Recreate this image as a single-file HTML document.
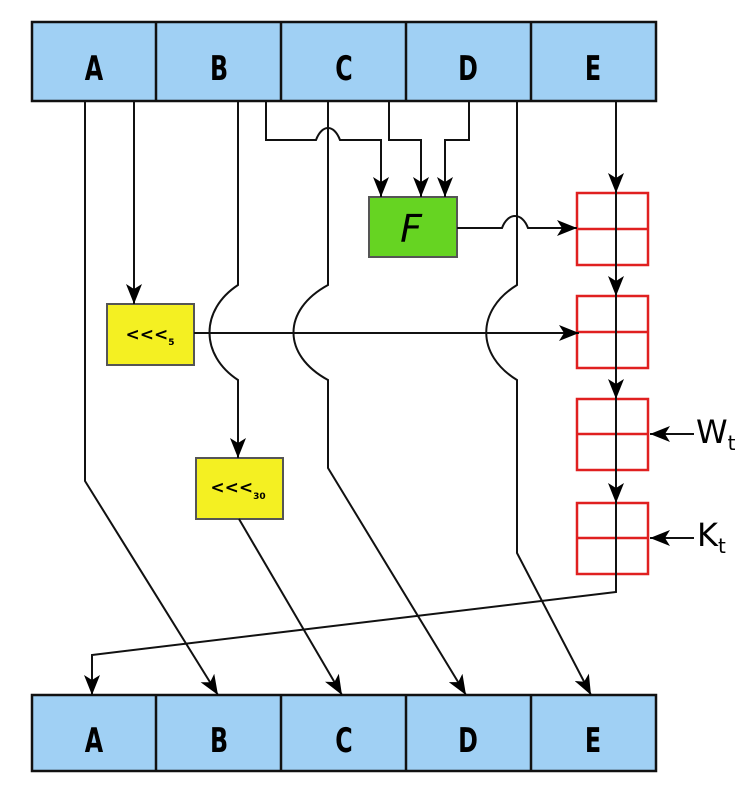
<!DOCTYPE html>
<html><head><style>
html,body{margin:0;padding:0;background:#fff;}
svg{display:block;}
.lbl{font-family:"DejaVu Sans","Liberation Sans",sans-serif;font-weight:bold;font-size:34px;}
</style></head><body>
<svg width="746" height="810" viewBox="0 0 746 810" xmlns="http://www.w3.org/2000/svg">
<defs>
<marker id="ar" viewBox="0 0 20 16" refX="20" refY="8" markerWidth="20" markerHeight="16" markerUnits="userSpaceOnUse" orient="auto">
<path d="M0,0 L20,8 L0,16 L5,8 Z" fill="#000"/>
</marker>
</defs>
<!-- top bar -->
<g stroke="#111" stroke-width="2.5" fill="#a0d0f4">
<rect x="32" y="22" width="624" height="79"/>
<line x1="156" y1="22" x2="156" y2="101"/><line x1="281" y1="22" x2="281" y2="101"/><line x1="406" y1="22" x2="406" y2="101"/><line x1="531" y1="22" x2="531" y2="101"/>
<rect x="32" y="695" width="624" height="76"/>
<line x1="156" y1="695" x2="156" y2="771"/><line x1="281" y1="695" x2="281" y2="771"/><line x1="406" y1="695" x2="406" y2="771"/><line x1="531" y1="695" x2="531" y2="771"/>
</g>
<g class="lbl" text-anchor="middle" fill="#000">
<text transform="translate(94,80) scale(0.7,1)">A</text>
<text transform="translate(219,80) scale(0.7,1)">B</text>
<text transform="translate(344,80) scale(0.7,1)">C</text>
<text transform="translate(468,80) scale(0.7,1)">D</text>
<text transform="translate(593,80) scale(0.7,1)">E</text>
<text transform="translate(94,752) scale(0.7,1)">A</text>
<text transform="translate(219,752) scale(0.7,1)">B</text>
<text transform="translate(344,752) scale(0.7,1)">C</text>
<text transform="translate(468,752) scale(0.7,1)">D</text>
<text transform="translate(593,752) scale(0.7,1)">E</text>
</g>
<!-- boxes -->
<rect x="107" y="304" width="87" height="61" fill="#f4f022" stroke="#555" stroke-width="2"/>
<rect x="196" y="458" width="87" height="61" fill="#f4f022" stroke="#555" stroke-width="2"/>
<rect x="369" y="197" width="88" height="60" fill="#66d422" stroke="#555" stroke-width="2"/>
<text x="150" y="340" font-family="DejaVu Sans,sans-serif" font-weight="bold" font-size="17" text-anchor="middle">&lt;&lt;&lt;<tspan font-size="9" dy="5">5</tspan></text>
<text x="238" y="493" font-family="DejaVu Sans,sans-serif" font-weight="bold" font-size="17" text-anchor="middle">&lt;&lt;&lt;<tspan font-size="9" dy="6">30</tspan></text>
<text x="411" y="242" font-family="DejaVu Sans,sans-serif" font-style="italic" font-size="38" text-anchor="middle">F</text>
<!-- red boxes -->
<g stroke="#e02020" stroke-width="2.5" fill="none">
<rect x="577" y="193" width="71" height="72"/><line x1="577" y1="229" x2="648" y2="229"/>
<rect x="577" y="296" width="71" height="72"/><line x1="577" y1="332" x2="648" y2="332"/>
<rect x="577" y="399" width="71" height="71"/><line x1="577" y1="434" x2="648" y2="434"/>
<rect x="577" y="503" width="71" height="71"/><line x1="577" y1="538" x2="648" y2="538"/>
</g>
<!-- connectors -->
<g stroke="#111" stroke-width="2" fill="none">
<path d="M85,101 V481 L218,695" marker-end="url(#ar)"/>
<path d="M134,101 V304" marker-end="url(#ar)"/>
<path d="M194,333 H579" marker-end="url(#ar)"/>
<path d="M238,101 V285 C200,310 200,355 238,380 V458" marker-end="url(#ar)"/>
<path d="M239,519 L342,695" marker-end="url(#ar)"/>
<path d="M328,101 V285 C282,310 282,355 328,380 V468 L466,695" marker-end="url(#ar)"/>
<path d="M517,101 V285 C476,310 476,355 517,380 V553 L591,695" marker-end="url(#ar)"/>
<path d="M266,101 V140 H316 C322,124 334,124 340,140 H381 V197" marker-end="url(#ar)"/>
<path d="M389,101 V140 H421 V197" marker-end="url(#ar)"/>
<path d="M469,101 V140 H445 V197" marker-end="url(#ar)"/>
<path d="M457,228 H502 C508,212 522,212 528,228 H577" marker-end="url(#ar)"/>
<path d="M616,101 V193" marker-end="url(#ar)"/>
<path d="M616,193 V296" marker-end="url(#ar)"/>
<path d="M616,296 V399" marker-end="url(#ar)"/>
<path d="M616,399 V503" marker-end="url(#ar)"/>
<path d="M616,503 V592 L92,655 V695" marker-end="url(#ar)"/>
<path d="M694,434 H650" marker-end="url(#ar)"/>
<path d="M694,538 H650" marker-end="url(#ar)"/>
</g>
<text x="696" y="443" font-family="DejaVu Sans,sans-serif" font-size="32">W<tspan font-size="20" dy="7">t</tspan></text>
<text x="697" y="546" font-family="DejaVu Sans,sans-serif" font-size="32">K<tspan font-size="20" dy="7">t</tspan></text>
</svg>
</body></html>
